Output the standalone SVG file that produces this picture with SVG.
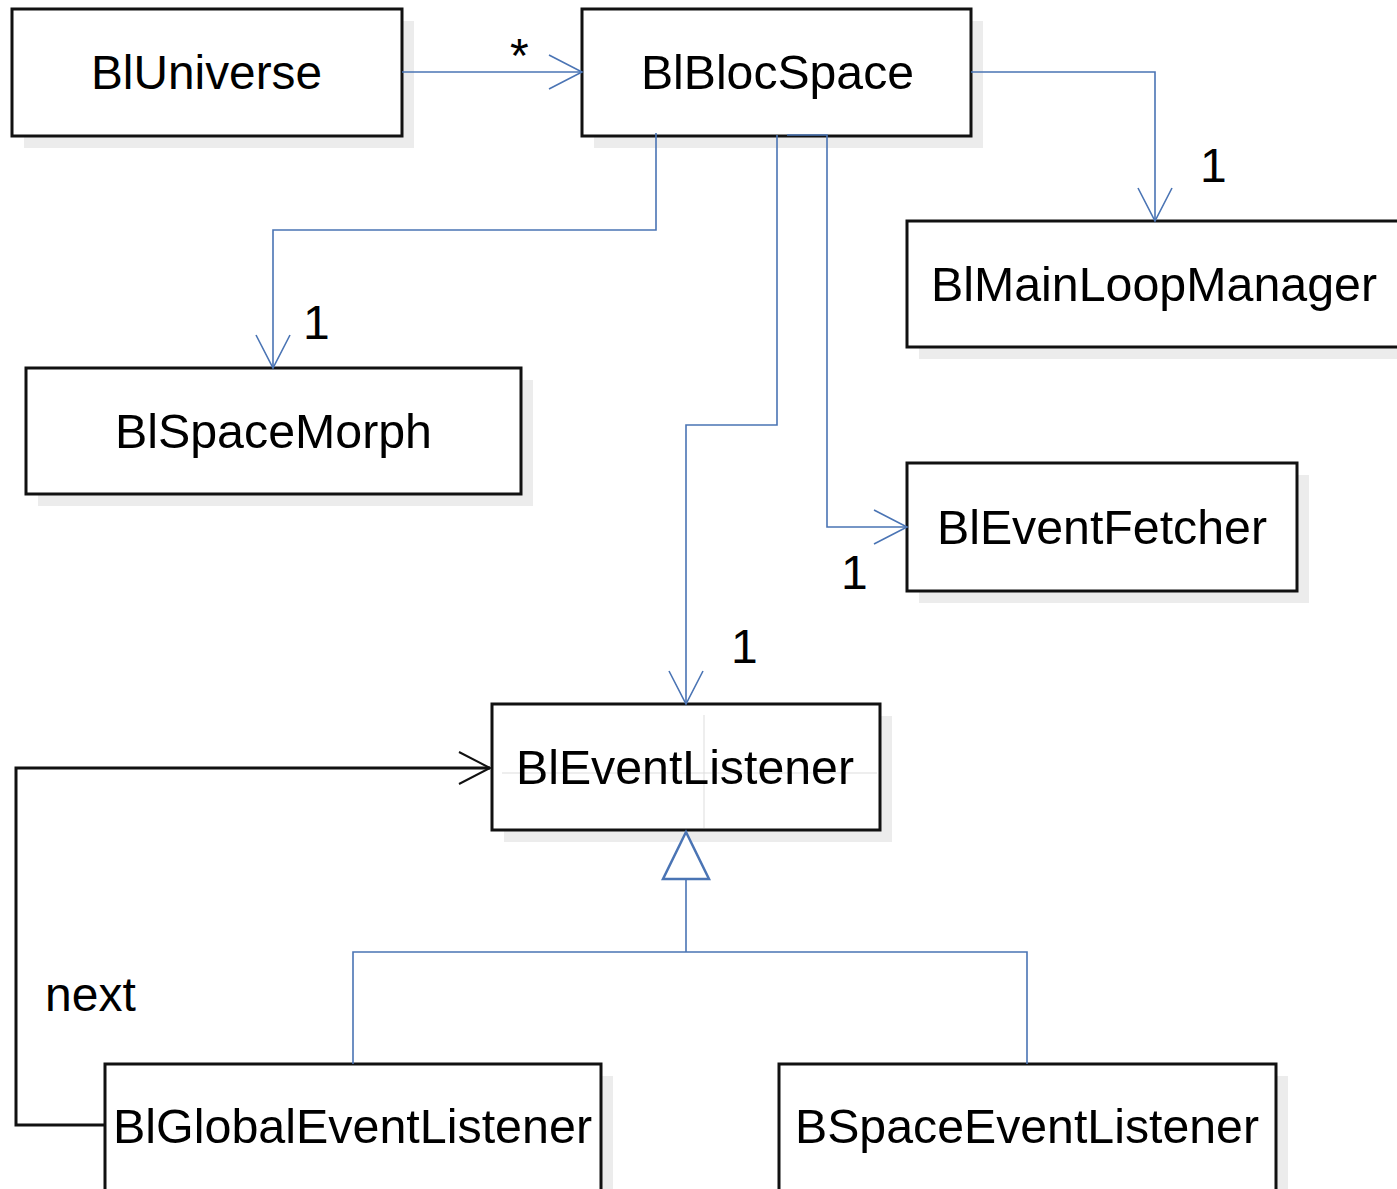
<svg xmlns="http://www.w3.org/2000/svg" width="1397" height="1189" viewBox="0 0 1397 1189">
<style>
.shadow{fill:#ececec;stroke:none}
.box{fill:#ffffff;stroke:#111111;stroke-width:3}
.lbl{font-family:"Liberation Sans",Arial,sans-serif;font-size:48px;fill:#000000}
.blue{fill:none;stroke:#4a74b4;stroke-width:1.6}
.black{fill:none;stroke:#111111;stroke-width:3}
.guide{stroke:#dddddd;stroke-width:1}
</style>
<defs>
<marker id="openBlue" markerUnits="userSpaceOnUse" viewBox="-36 -20 40 40" markerWidth="40" markerHeight="40" refX="0" refY="0" orient="auto">
<path d="M-33,-17 L0,0 L-33,17" fill="none" stroke="#4a74b4" stroke-width="1.6"/>
</marker>
<marker id="openBlack" markerUnits="userSpaceOnUse" viewBox="-36 -20 40 40" markerWidth="40" markerHeight="40" refX="0" refY="0" orient="auto">
<path d="M-31,-16 L0,0 L-31,16" fill="none" stroke="#111111" stroke-width="2"/>
</marker>
</defs>
<rect width="1397" height="1189" fill="#ffffff"/>

<g id="BlUniverse">
<rect class="shadow" x="24" y="21" width="390" height="127"/>
<rect class="box" x="12" y="9" width="390" height="127"/>
<text class="lbl" x="91" y="89" textLength="231" lengthAdjust="spacingAndGlyphs">BlUniverse</text>
</g>
<g id="BlBlocSpace">
<rect class="shadow" x="594" y="21" width="389" height="127"/>
<rect class="box" x="582" y="9" width="389" height="127"/>
<text class="lbl" x="641" y="89" textLength="273" lengthAdjust="spacingAndGlyphs">BlBlocSpace</text>
</g>
<g id="BlMainLoopManager">
<rect class="shadow" x="919" y="233" width="495" height="126"/>
<rect class="box" x="907" y="221" width="495" height="126"/>
<text class="lbl" x="931" y="301" textLength="446" lengthAdjust="spacingAndGlyphs">BlMainLoopManager</text>
</g>
<g id="BlSpaceMorph">
<rect class="shadow" x="38" y="380" width="495" height="126"/>
<rect class="box" x="26" y="368" width="495" height="126"/>
<text class="lbl" x="115" y="448" textLength="317" lengthAdjust="spacingAndGlyphs">BlSpaceMorph</text>
</g>
<g id="BlEventFetcher">
<rect class="shadow" x="919" y="475" width="390" height="128"/>
<rect class="box" x="907" y="463" width="390" height="128"/>
<text class="lbl" x="937" y="544" textLength="330" lengthAdjust="spacingAndGlyphs">BlEventFetcher</text>
</g>
<g id="BlEventListener">
<rect class="shadow" x="504" y="716" width="388" height="126"/>
<rect class="box" x="492" y="704" width="388" height="126"/>
<line class="guide" x1="704" y1="715" x2="704" y2="828"/>
<line class="guide" x1="502" y1="773" x2="877" y2="773"/>
<text class="lbl" x="516" y="784" textLength="338" lengthAdjust="spacingAndGlyphs">BlEventListener</text>
</g>
<g id="BlGlobalEventListener">
<rect class="shadow" x="117" y="1076" width="496" height="140"/>
<rect class="box" x="105" y="1064" width="496" height="140"/>
<text class="lbl" x="113" y="1143" textLength="479" lengthAdjust="spacingAndGlyphs">BlGlobalEventListener</text>
</g>
<g id="BSpaceEventListener">
<rect class="shadow" x="791" y="1076" width="497" height="140"/>
<rect class="box" x="779" y="1064" width="497" height="140"/>
<text class="lbl" x="795" y="1143" textLength="464" lengthAdjust="spacingAndGlyphs">BSpaceEventListener</text>
</g>

<g id="connectors">
<path class="blue" d="M402,72 L582,72" marker-end="url(#openBlue)"/>
<text class="lbl" x="510" y="72">*</text>
<path class="blue" d="M971,72 L1155,72 L1155,221" marker-end="url(#openBlue)"/>
<text class="lbl" x="1200" y="182">1</text>
<path class="blue" d="M656,133 L656,230 L273,230 L273,368" marker-end="url(#openBlue)"/>
<text class="lbl" x="303" y="339">1</text>
<path class="blue" d="M777,135 L777,425 L686,425 L686,704" marker-end="url(#openBlue)"/>
<text class="lbl" x="731" y="663">1</text>
<path class="blue" d="M787,135 L827,135 L827,527 L907,527" marker-end="url(#openBlue)"/>
<text class="lbl" x="841" y="589">1</text>
<path class="black" d="M105,1125 L16,1125 L16,768 L490,768" marker-end="url(#openBlack)"/>
<text class="lbl" x="45" y="1011">next</text>
<path class="blue" d="M353,1064 L353,952 L1027,952 L1027,1064"/>
<path class="blue" d="M686,952 L686,879"/>
<polygon points="686,832 709,879 663,879" fill="#ffffff" stroke="#4a74b4" stroke-width="2.5"/>
</g>
</svg>
